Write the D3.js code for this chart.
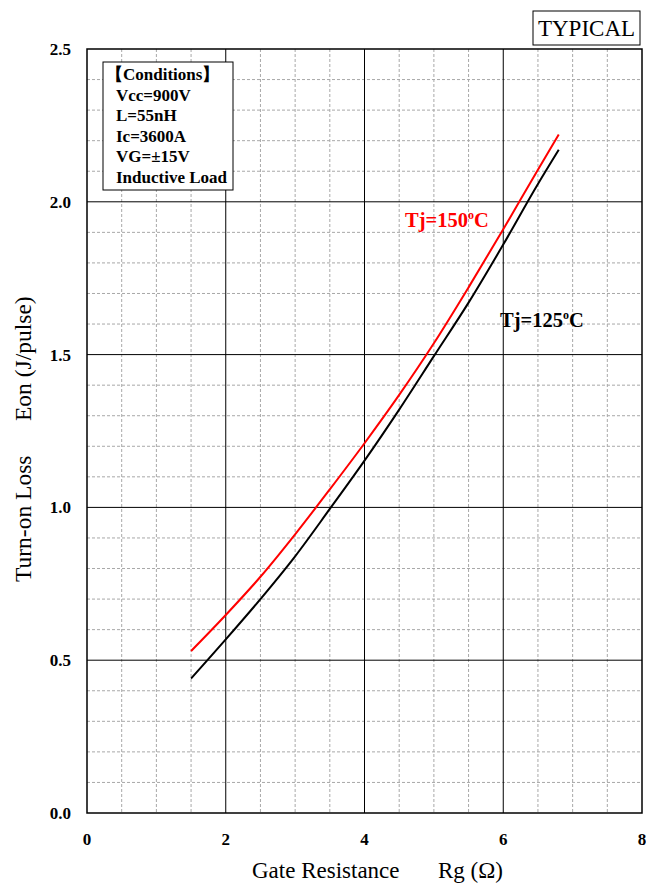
<!DOCTYPE html>
<html>
<head>
<meta charset="utf-8">
<script src="https://cdn.jsdelivr.net/npm/d3@7/dist/d3.min.js"></script>
<style>
  html, body { margin: 0; padding: 0; background: #fff; }
  svg { display: block; }
  text { font-family: "Liberation Serif", "Times New Roman", serif; }
</style>
</head>
<body>
<svg id="chart" width="646" height="886"></svg>
<script>
// Turn-on loss vs gate resistance
const rg = [1.5, 2, 2.5, 3, 3.5, 4, 4.5, 5, 5.5, 6, 6.5, 6.8];
const eon150 = [0.53, 0.648, 0.773, 0.912, 1.059, 1.21, 1.368, 1.537, 1.72, 1.91, 2.105, 2.22];
const eon125 = [0.44, 0.568, 0.70, 0.84, 0.995, 1.153, 1.32, 1.495, 1.67, 1.86, 2.058, 2.17];
const xTicks = [0, 2, 4, 6, 8];
const yTicks = [0.0, 0.5, 1.0, 1.5, 2.0, 2.5];
const conditions = ["【Conditions】", "Vcc=900V", "L=55nH", "Ic=3600A", "VG=±15V", "Inductive Load"];

const svg = d3.select("#chart");
const m = { left: 87, right: 642, top: 49, bottom: 813 };

const x = d3.scaleLinear().domain([0, 8]).range([m.left, m.right]);
const y = d3.scaleLinear().domain([0, 2.5]).range([m.bottom, m.top]);

// minor grid (dashed)
const xMinor = d3.range(0.5, 8, 0.5).filter(v => Math.abs(v % 2) > 1e-9);
const yMinor = d3.range(1, 25).map(i => i / 10).filter(v => Math.abs((v * 10) % 5) > 1e-9);

svg.append("g").selectAll("line").data(xMinor).join("line")
  .attr("x1", d => x(d)).attr("x2", d => x(d))
  .attr("y1", m.top).attr("y2", m.bottom)
  .attr("stroke", "#a8a8a8").attr("stroke-width", 1).attr("stroke-dasharray", "3,2");
svg.append("g").selectAll("line").data(yMinor).join("line")
  .attr("y1", d => y(d)).attr("y2", d => y(d))
  .attr("x1", m.left).attr("x2", m.right)
  .attr("stroke", "#a8a8a8").attr("stroke-width", 1).attr("stroke-dasharray", "3,2");

// major grid (solid)
svg.append("g").selectAll("line").data(xTicks.slice(1, -1)).join("line")
  .attr("x1", d => x(d)).attr("x2", d => x(d))
  .attr("y1", m.top).attr("y2", m.bottom)
  .attr("stroke", "#000").attr("stroke-width", 1);
svg.append("g").selectAll("line").data(yTicks.slice(1, -1)).join("line")
  .attr("y1", d => y(d)).attr("y2", d => y(d))
  .attr("x1", m.left).attr("x2", m.right)
  .attr("stroke", "#000").attr("stroke-width", 1);

// frame
svg.append("rect")
  .attr("x", m.left).attr("y", m.top)
  .attr("width", m.right - m.left).attr("height", m.bottom - m.top)
  .attr("fill", "none").attr("stroke", "#000").attr("stroke-width", 1.5);

// tick labels
svg.append("g").selectAll("text").data(yTicks).join("text")
  .attr("x", m.left - 16).attr("y", d => y(d)).attr("dy", "0.35em")
  .attr("text-anchor", "end").attr("font-weight", "bold").attr("font-size", 17)
  .text(d => d.toFixed(1));
svg.append("g").selectAll("text").data(xTicks).join("text")
  .attr("x", d => x(d)).attr("y", 845)
  .attr("text-anchor", "middle").attr("font-weight", "bold").attr("font-size", 17)
  .text(d => d);

// axis titles
svg.append("text").attr("x", 252).attr("y", 878).attr("font-size", 23)
  .text("Gate Resistance");
svg.append("text").attr("x", 438).attr("y", 878).attr("font-size", 23)
  .text("Rg (Ω)");
svg.append("text").attr("transform", "translate(31,582) rotate(-90)")
  .attr("font-size", 23.5).text("Turn-on Loss");
svg.append("text").attr("transform", "translate(31,421) rotate(-90)")
  .attr("font-size", 23.5).text("Eon (J/pulse)");

// curves
const line = d3.line().x((d, i) => x(rg[i])).y(d => y(d)).curve(d3.curveMonotoneX);
svg.append("path").datum(eon125).attr("d", line)
  .attr("fill", "none").attr("stroke", "#000").attr("stroke-width", 2);
svg.append("path").datum(eon150).attr("d", line)
  .attr("fill", "none").attr("stroke", "#ff0000").attr("stroke-width", 2);

// curve labels
function tjLabel(xp, yp, temp, color) {
  const t = svg.append("text").attr("x", xp).attr("y", yp)
    .attr("font-weight", "bold").attr("font-size", 20.5).attr("fill", color);
  t.append("tspan").text("Tj=" + temp);
  t.append("tspan").attr("font-size", 12).attr("dy", -8).text("o");
  t.append("tspan").attr("dy", 8).text("C");
}
tjLabel(405, 227, "150", "#ff0000");
tjLabel(500, 327, "125", "#000");

// conditions box
svg.append("rect").attr("x", 103).attr("y", 62).attr("width", 130).attr("height", 128)
  .attr("fill", "#fff").attr("stroke", "#000").attr("stroke-width", 1);
svg.append("g").selectAll("text").data(conditions).join("text")
  .attr("x", (d, i) => i === 0 ? 106 : 116)
  .attr("y", (d, i) => 80 + i * 20.5)
  .attr("font-weight", "bold").attr("font-size", 17)
  .text(d => d);

// TYPICAL box
svg.append("rect").attr("x", 533).attr("y", 11).attr("width", 107).attr("height", 34)
  .attr("fill", "#fff").attr("stroke", "#000").attr("stroke-width", 1);
svg.append("text").attr("x", 586.5).attr("y", 36).attr("text-anchor", "middle")
  .attr("font-size", 23).text("TYPICAL");
</script>
</body>
</html>
